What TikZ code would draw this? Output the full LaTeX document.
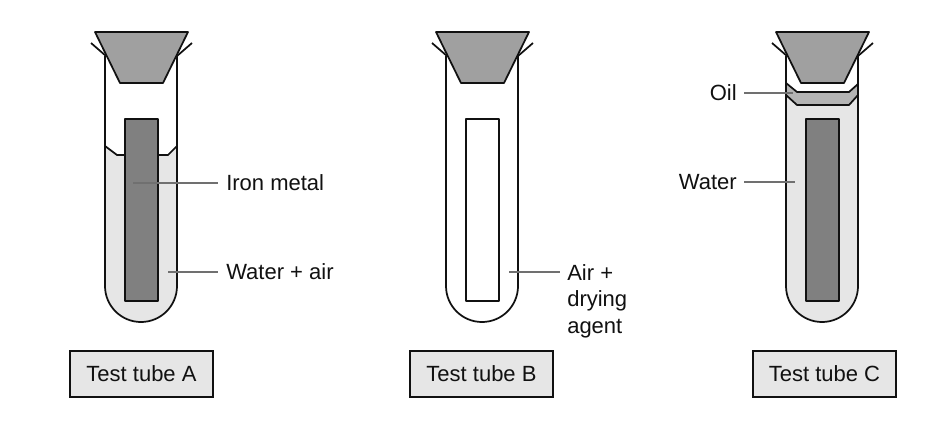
\documentclass[tikz,border=0pt]{standalone}
\usepackage{fontspec}
\setmainfont{Liberation Sans}
\definecolor{stopgray}{HTML}{A0A0A0}
\definecolor{irongray}{HTML}{808080}
\definecolor{watergray}{HTML}{E6E6E6}
\definecolor{oilgray}{HTML}{B4B4B4}
\definecolor{leadgray}{HTML}{707070}
\definecolor{inkline}{HTML}{111111}
\tikzset{
  outline/.style={draw=inkline,line width=1.3pt,line join=round},
  leader/.style={draw=leadgray,line width=1pt},
  lab/.style={font=\fontsize{16.5}{20}\selectfont,inner sep=0pt,text=inkline},
  caption/.style={lab,draw=inkline,line width=1.2pt,fill=watergray,minimum width=107pt,minimum height=34.5pt}
}
% glass tube and stopper, drawn relative to tube A's position
\newcommand{\tubeglass}{%
  \draw[outline] (105,56) -- (105,286) arc[start angle=180,end angle=0,radius=36] -- (177,56);
  \draw[outline] (91,43) -- (106,56);
  \draw[outline] (192,43) -- (177,56);
  \draw[outline,fill=stopgray] (95,32) -- (188,32) -- (163,83) -- (120,83) -- cycle;
}
\newcommand{\ironbar}[1]{\draw[outline,fill=#1] (125,119) rectangle (158,301);}
\begin{document}
\begin{tikzpicture}[x=0.75pt,y=-0.75pt]
\useasboundingbox (0,0) rectangle (930,429);
\fill[white] (0,0) rectangle (930,429);
% Tube A
\begin{scope}
  \fill[watergray] (105,146) -- (117,155) -- (168,155) -- (177,146) -- (177,286) arc[start angle=0,end angle=180,radius=36] -- cycle;
  \draw[outline] (105,146) -- (117,155) -- (168,155) -- (177,146);
  \ironbar{irongray}
  \tubeglass
\end{scope}
% Tube B
\begin{scope}[xshift=341*0.75pt]
  \ironbar{white}
  \tubeglass
\end{scope}
% Tube C
\begin{scope}[xshift=681*0.75pt]
  \fill[watergray] (105,95) -- (116,105) -- (168,105) -- (177,95) -- (177,286) arc[start angle=0,end angle=180,radius=36] -- cycle;
  \draw[outline,fill=oilgray] (105,83) -- (116,92) -- (168,92) -- (177,84) -- (177,95) -- (168,105) -- (116,105) -- (105,95) -- cycle;
  \ironbar{irongray}
  \tubeglass
\end{scope}
% Labels
\node[lab,anchor=west] (iron) at (226,183) {Iron metal};
\node[lab,anchor=west] (wair) at (226,272) {Water + air};
\node[lab,anchor=north west,align=left] (dry) at (567,264) {Air +\\drying\\agent};
\node[lab,anchor=east] (oil) at (737,93) {Oil};
\node[lab,anchor=east] (water) at (737,182) {Water};
% Leader ends
\coordinate (ironend) at (133,183);
\coordinate (wairend) at (168,272);
\coordinate (dryend) at (509,272);
\coordinate (oilend) at (793,93);
\coordinate (waterend) at (795,182);
\draw[leader] (ironend) -- (218,183);
\draw[leader] (wairend) -- (218,272);
\draw[leader] (dryend) -- (560,272);
\draw[leader] (744,93) -- (oilend);
\draw[leader] (744,182) -- (waterend);
% Captions
\node[caption] (capA) at (141.5,374) {Test tube A};
\node[caption] (capB) at (481.5,374) {Test tube B};
\node[caption] (capC) at (824.5,374) {Test tube C};
\end{tikzpicture}
\end{document}
